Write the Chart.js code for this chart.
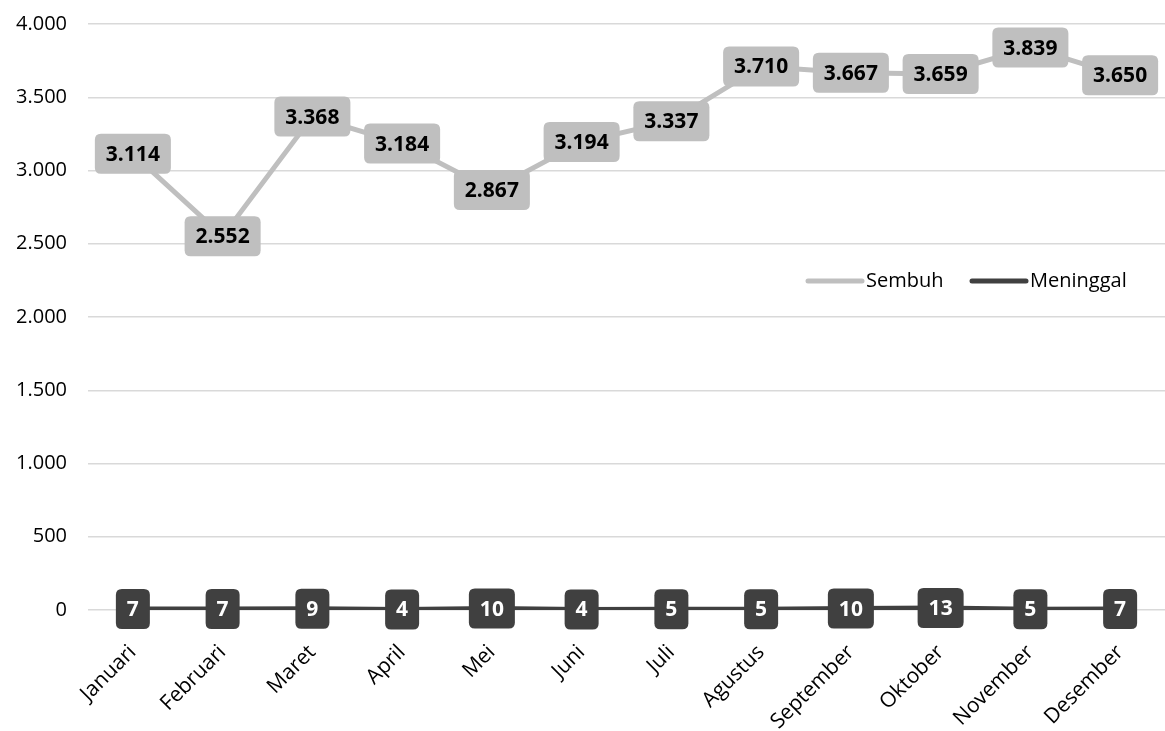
<!DOCTYPE html>
<html>
<head>
<meta charset="utf-8">
<script src="https://cdn.jsdelivr.net/npm/chart.js@4"></script>
<style>
  html, body { margin: 0; padding: 0; background: white; }
  .wrap { position: relative; width: 1165px; height: 731px; }
</style>
</head>
<body>
<div class="wrap"><canvas id="c"></canvas></div>
<script>
// Sembuh vs Meninggal per bulan
const months = ['Januari', 'Februari', 'Maret', 'April', 'Mei', 'Juni', 'Juli',
    'Agustus', 'September', 'Oktober', 'November', 'Desember'];
const sembuh = [3114, 2552, 3368, 3184, 2867, 3194, 3337, 3710, 3667, 3659, 3839, 3650];
const meninggal = [7, 7, 9, 4, 10, 4, 5, 5, 10, 13, 5, 7];

const lightGray = '#bfbfbf';
const darkGray = '#404040';
const FONT = '"Open Sans", "Noto Sans", sans-serif';

// 3114 -> "3.114"
function fmt(v) {
    return String(v).replace(/\B(?=(\d{3})+(?!\d))/g, '.');
}

function roundRect(ctx, x, y, w, h, r) {
    ctx.beginPath();
    ctx.moveTo(x + r, y);
    ctx.lineTo(x + w - r, y);
    ctx.quadraticCurveTo(x + w, y, x + w, y + r);
    ctx.lineTo(x + w, y + h - r);
    ctx.quadraticCurveTo(x + w, y + h, x + w - r, y + h);
    ctx.lineTo(x + r, y + h);
    ctx.quadraticCurveTo(x, y + h, x, y + h - r);
    ctx.lineTo(x, y + r);
    ctx.quadraticCurveTo(x, y, x + r, y);
    ctx.closePath();
}

// value boxes on every point
const labelPlugin = {
    id: 'valueBoxes',
    afterDatasetsDraw: function (chart) {
        const ctx = chart.ctx;
        ctx.save();
        ctx.font = 'bold 21px ' + FONT;
        ctx.textAlign = 'center';
        ctx.textBaseline = 'middle';
        chart.data.datasets.forEach(function (ds, di) {
            const meta = chart.getDatasetMeta(di);
            meta.data.forEach(function (pt, i) {
                const txt = fmt(ds.data[i]);
                const w = ctx.measureText(txt).width + 22;
                const h = 40;
                roundRect(ctx, pt.x - w / 2, pt.y - h / 2, w, h, 6);
                ctx.fillStyle = ds.borderColor;
                ctx.fill();
                ctx.fillStyle = di === 0 ? '#000000' : '#ffffff';
                ctx.fillText(txt, pt.x, pt.y + 1);
            });
        });
        ctx.restore();
    }
};

// legend drawn inside the plot, right side
const legendPlugin = {
    id: 'innerLegend',
    afterDraw: function (chart) {
        const ctx = chart.ctx;
        const right = chart.chartArea.right;
        const y = 281;
        const items = [
            { text: 'Sembuh', color: lightGray, x: right - 357 },
            { text: 'Meninggal', color: darkGray, x: right - 193 }
        ];
        ctx.save();
        ctx.font = '20px ' + FONT;
        ctx.textBaseline = 'middle';
        ctx.textAlign = 'left';
        items.forEach(function (it) {
            ctx.strokeStyle = it.color;
            ctx.lineWidth = 5;
            ctx.lineCap = 'round';
            ctx.beginPath();
            ctx.moveTo(it.x, y);
            ctx.lineTo(it.x + 54, y);
            ctx.stroke();
            ctx.fillStyle = '#000000';
            ctx.fillText(it.text, it.x + 58, y);
        });
        ctx.restore();
    }
};

new Chart(document.getElementById('c'), {
    type: 'line',
    data: {
        labels: months,
        datasets: [
            { label: 'Sembuh', data: sembuh, borderColor: lightGray, backgroundColor: lightGray,
              borderWidth: 5, pointRadius: 0, tension: 0 },
            { label: 'Meninggal', data: meninggal, borderColor: darkGray, backgroundColor: darkGray,
              borderWidth: 5, pointRadius: 0, tension: 0 }
        ]
    },
    options: {
        responsive: true,
        maintainAspectRatio: false,
        animation: false,
        layout: { padding: { top: 24, right: 0, bottom: 0, left: 0 } },
        scales: {
            y: {
                min: 0, max: 4000,
                ticks: {
                    stepSize: 500,
                    padding: 21,
                    color: '#000000',
                    font: { family: FONT, size: 20 },
                    callback: function (v) { return fmt(v); }
                },
                grid: { color: '#d9d9d9', lineWidth: 1.5, drawTicks: false },
                border: { display: false },
                afterFit: function (s) { s.width = 88; s.paddingTop = 0; s.paddingBottom = 0; }
            },
            x: {
                offset: true,
                ticks: {
                    autoSkip: false,
                    maxRotation: 45,
                    minRotation: 45,
                    padding: 22,
                    color: '#000000',
                    font: { family: FONT, size: 21 }
                },
                grid: { display: false, offset: true },
                border: { display: false },
                afterFit: function (s) { s.height = 121; s.paddingLeft = 0; s.paddingRight = 0; }
            }
        },
        plugins: {
            legend: { display: false },
            tooltip: { enabled: false }
        }
    },
    plugins: [labelPlugin, legendPlugin]
});
</script>
</body>
</html>
